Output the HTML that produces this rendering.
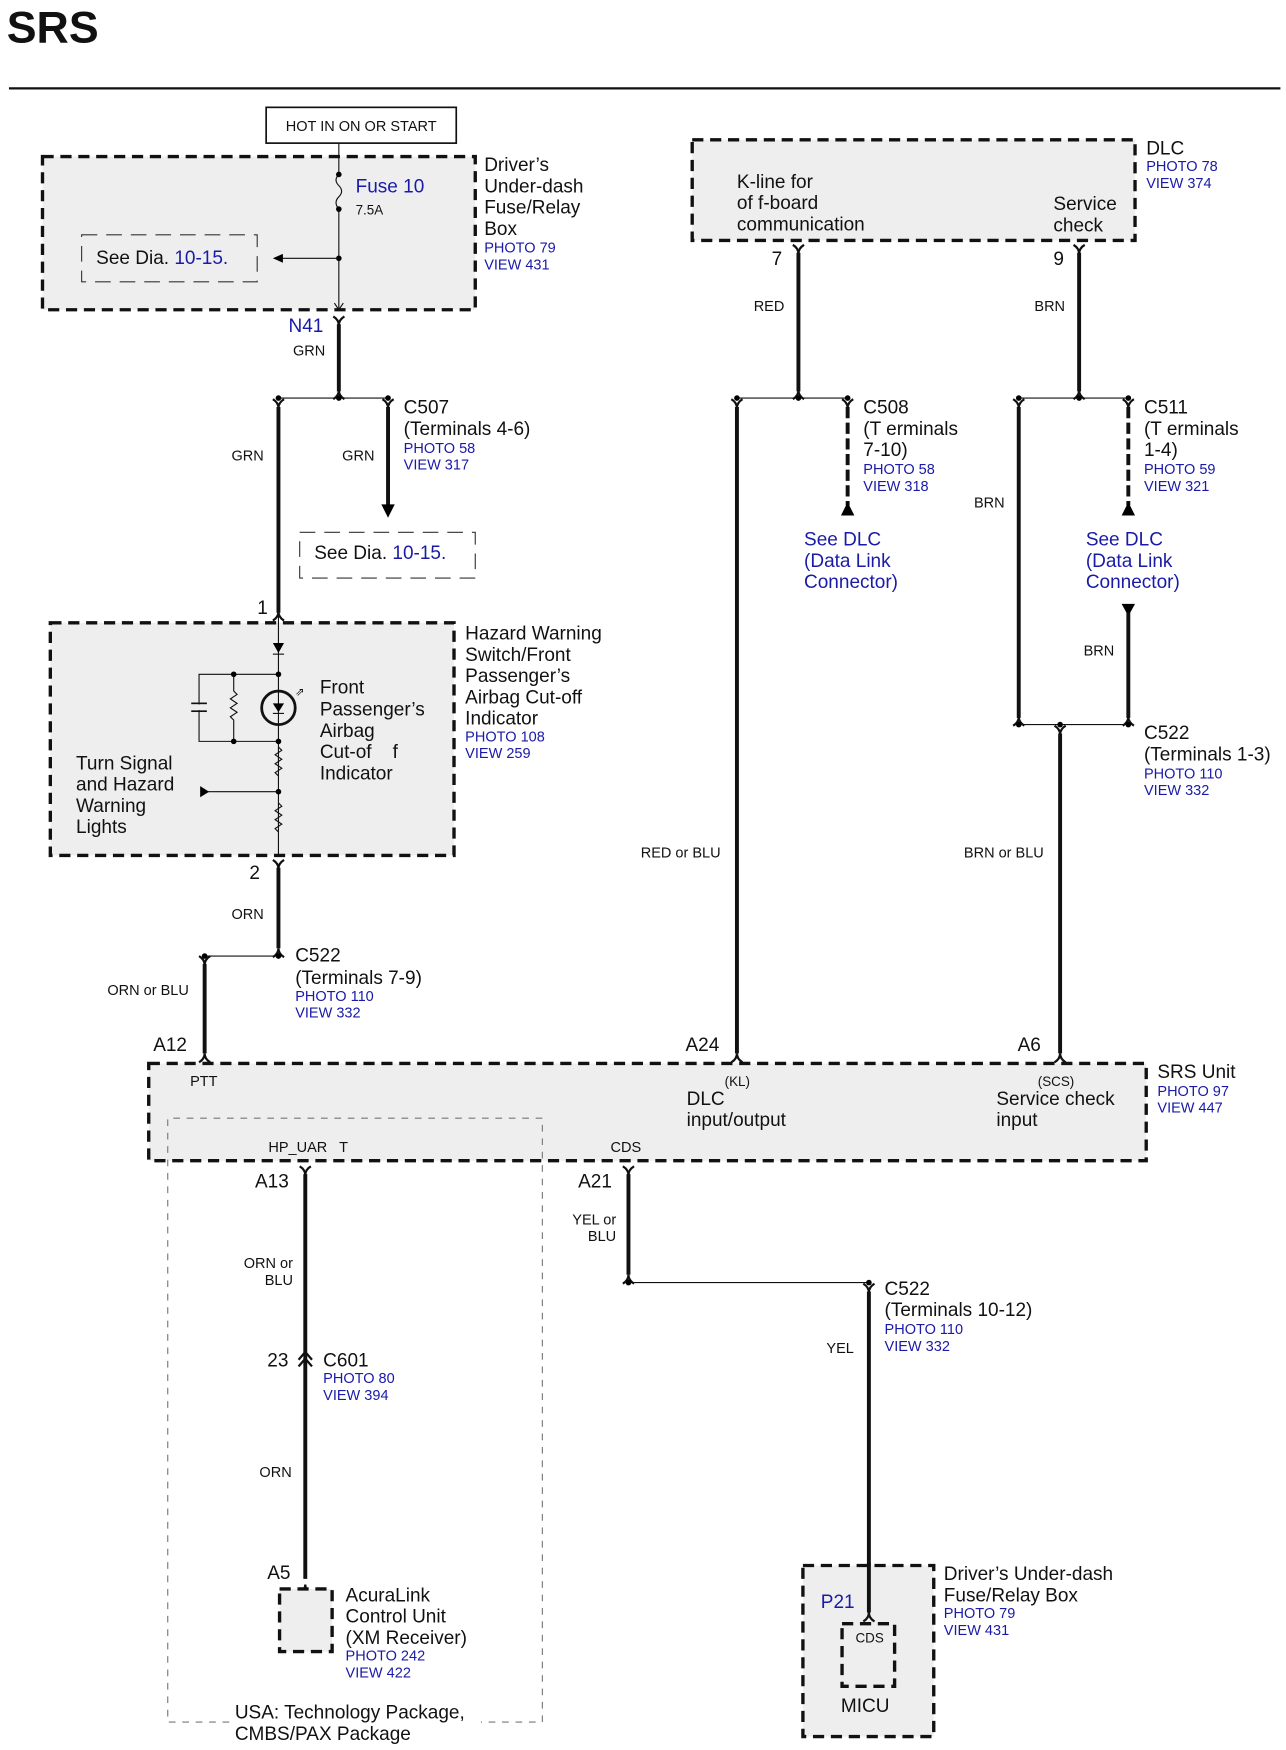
<!DOCTYPE html>
<html><head><meta charset="utf-8"><style>
html,body{margin:0;padding:0;background:#fff;}
svg{display:block;}
text{font-family:"Liberation Sans",Arial,sans-serif;fill:#111;}
.b{fill:#1a1aa8;}
.l{font-size:17px;}
.s{font-size:13px;}
.w{font-size:13px;}
</style></head><body>
<svg width="1286" height="1750" viewBox="0 0 1150 1565" preserveAspectRatio="none" xmlns="http://www.w3.org/2000/svg">
<defs>
<g id="fk"><path d="M-5,-7 Q0,-4 0,1 Q0,-4 5,-7" fill="none" stroke="#111" stroke-width="2"/></g>
<g id="cp"><path d="M-5,7 Q0,4 0,-1 Q0,4 5,7" fill="none" stroke="#111" stroke-width="2"/></g>
</defs>
<text x="6" y="38" style="font-size:40px;font-weight:bold">SRS</text>
<line x1="8" y1="79" x2="1145" y2="79" stroke="#111" stroke-width="2"/>

<rect x="238" y="96" width="170" height="32" fill="#fff" stroke="#111" stroke-width="1.5"/>
<text x="323" y="117" class="s" text-anchor="middle">HOT IN ON OR START</text>

<rect x="38" y="140" width="387" height="137" fill="#eee" stroke="#111" stroke-width="3" stroke-dasharray="10,6"/>
<line x1="303" y1="128" x2="303" y2="156" stroke="#111"/>
<path d="M303,156 q-5,5 0,10 q5,5 0,10 q-5,5 0,11" fill="none" stroke="#111"/>
<line x1="303" y1="187" x2="303" y2="277" stroke="#111"/>
<circle cx="303" cy="156" r="2.5"/><circle cx="303" cy="187" r="2.5"/><circle cx="303" cy="231" r="2.5"/>
<text x="318" y="172" class="l b">Fuse 10</text>
<text x="318" y="192" style="font-size:12px">7.5A</text>
<line x1="303" y1="231" x2="252" y2="231" stroke="#111"/>
<path d="M244,231 L253,227 L253,235 Z"/>
<rect x="73" y="210" width="157" height="42" fill="none" stroke="#333" stroke-dasharray="14,8"/>
<text x="86" y="236" class="l">See Dia. <tspan class="b">10-15.</tspan></text>
<path d="M299,271 L303,277 L307,271" fill="none" stroke="#111"/>
<text x="433" y="153" class="l">Driver’s</text>
<text x="433" y="172" class="l">Under-dash</text>
<text x="433" y="191" class="l">Fuse/Relay</text>
<text x="433" y="210" class="l">Box</text>
<text x="433" y="226" class="s b">PHOTO 79</text>
<text x="433" y="241" class="s b">VIEW 431</text>

<text x="258" y="297" class="l b">N41</text>
<use href="#fk" x="303" y="290"/>
<line x1="303" y1="290" x2="303" y2="350" stroke="#111" stroke-width="3.5"/>
<text x="262" y="318" class="w">GRN</text>
<use href="#cp" x="303" y="350"/>
<line x1="249" y1="356" x2="347" y2="356" stroke="#111"/>
<circle cx="249" cy="356" r="2.5"/><circle cx="303" cy="356" r="2.5"/><circle cx="347" cy="356" r="2.5"/>
<use href="#fk" x="249" y="364"/><use href="#fk" x="347" y="364"/>
<line x1="249" y1="364" x2="249" y2="548" stroke="#111" stroke-width="3.5"/>
<line x1="347" y1="364" x2="347" y2="452" stroke="#111" stroke-width="3.5"/>
<path d="M341,451 L353,451 L347,463 Z"/>
<text x="361" y="370" class="l">C507</text>
<text x="361" y="389" class="l">(Terminals 4-6)</text>
<text x="361" y="405" class="s b">PHOTO 58</text>
<text x="361" y="420" class="s b">VIEW 317</text>
<text x="207" y="412" class="w">GRN</text>
<text x="306" y="412" class="w">GRN</text>
<rect x="268" y="476" width="157" height="41" fill="none" stroke="#333" stroke-dasharray="14,8"/>
<text x="281" y="500" class="l">See Dia. <tspan class="b">10-15.</tspan></text>

<text x="230" y="549" class="l">1</text>
<use href="#cp" x="249" y="548"/>
<rect x="45" y="557" width="361" height="208" fill="#eee" stroke="#111" stroke-width="3" stroke-dasharray="10,6"/>
<line x1="249" y1="548" x2="249" y2="765" stroke="#111"/>
<path d="M244,575 L254,575 L249,584 Z"/><line x1="244" y1="585" x2="254" y2="585" stroke="#111"/>
<path d="M249,603 H178 V663 H249" fill="none" stroke="#111"/>
<path d="M209,603 V618 l3,3 l-6,4 l6,4 l-6,4 l6,4 l-6,4 l3,3 V663" fill="none" stroke="#111"/>
<line x1="171" y1="629" x2="185" y2="629" stroke="#111" stroke-width="1.5"/>
<line x1="171" y1="636" x2="185" y2="636" stroke="#111" stroke-width="1.5"/>
<rect x="174" y="630" width="8" height="5" fill="#eee"/>
<circle cx="209" cy="603" r="2.5"/><circle cx="249" cy="603" r="2.5"/><circle cx="209" cy="663" r="2.5"/><circle cx="249" cy="663" r="2.5"/>
<circle cx="249" cy="633" r="15" fill="#eee" stroke="#111" stroke-width="2.5"/>
<line x1="249" y1="618" x2="249" y2="648" stroke="#111"/>
<path d="M244,629 L254,629 L249,637 Z"/><line x1="244" y1="638" x2="254" y2="638" stroke="#111"/>
<text x="264" y="622" style="font-size:10px">⇗</text>
<path d="M249,668 l3,3 l-6,4 l6,4 l-6,4 l6,4 l-6,4 l3,3" fill="none" stroke="#111"/>
<path d="M249,718 l3,3 l-6,4 l6,4 l-6,4 l6,4 l-6,4 l3,3" fill="none" stroke="#111"/>
<circle cx="249" cy="708" r="2.5"/>
<line x1="186" y1="708" x2="249" y2="708" stroke="#111"/>
<path d="M179,703 L187,708 L179,713 Z"/>
<text x="286" y="620" class="l">Front</text>
<text x="286" y="640" class="l">Passenger’s</text>
<text x="286" y="659" class="l">Airbag</text>
<text x="286" y="678" class="l">Cut-of&#160;&#160;&#160; f</text>
<text x="286" y="697" class="l">Indicator</text>
<text x="68" y="688" class="l">Turn Signal</text>
<text x="68" y="707" class="l">and Hazard</text>
<text x="68" y="726" class="l">Warning</text>
<text x="68" y="745" class="l">Lights</text>
<text x="416" y="572" class="l">Hazard Warning</text>
<text x="416" y="591" class="l">Switch/Front</text>
<text x="416" y="610" class="l">Passenger’s</text>
<text x="416" y="629" class="l">Airbag Cut-off</text>
<text x="416" y="648" class="l">Indicator</text>
<text x="416" y="663" class="s b">PHOTO 108</text>
<text x="416" y="678" class="s b">VIEW 259</text>

<text x="223" y="786" class="l">2</text>
<use href="#fk" x="249" y="776"/>
<line x1="249" y1="776" x2="249" y2="848" stroke="#111" stroke-width="3.5"/>
<text x="207" y="822" class="w">ORN</text>
<use href="#cp" x="249" y="849"/>
<line x1="183" y1="855" x2="249" y2="855" stroke="#111"/>
<circle cx="183" cy="855" r="2.5"/><circle cx="249" cy="855" r="2.5"/>
<use href="#fk" x="183" y="862"/>
<line x1="183" y1="862" x2="183" y2="942" stroke="#111" stroke-width="3.5"/>
<text x="264" y="860" class="l">C522</text>
<text x="264" y="880" class="l">(Terminals 7-9)</text>
<text x="264" y="895" class="s b">PHOTO 110</text>
<text x="264" y="910" class="s b">VIEW 332</text>
<text x="96" y="890" class="w">ORN or BLU</text>

<rect x="619" y="125" width="396" height="90" fill="#eee" stroke="#111" stroke-width="3" stroke-dasharray="10,6"/>
<text x="659" y="168" class="l">K-line for</text>
<text x="659" y="187" class="l">of f-board</text>
<text x="659" y="206" class="l">communication</text>
<text x="942" y="188" class="l">Service</text>
<text x="942" y="207" class="l">check</text>
<text x="1025" y="138" class="l">DLC</text>
<text x="1025" y="153" class="s b">PHOTO 78</text>
<text x="1025" y="168" class="s b">VIEW 374</text>
<text x="690" y="237" class="l">7</text>
<text x="942" y="237" class="l">9</text>
<use href="#fk" x="714" y="226"/><use href="#fk" x="965" y="226"/>
<line x1="714" y1="226" x2="714" y2="350" stroke="#111" stroke-width="3.5"/>
<line x1="965" y1="226" x2="965" y2="350" stroke="#111" stroke-width="3.5"/>
<text x="674" y="278" class="w">RED</text>
<text x="925" y="278" class="w">BRN</text>
<use href="#cp" x="714" y="350"/><use href="#cp" x="965" y="350"/>
<line x1="659" y1="356" x2="758" y2="356" stroke="#111"/>
<line x1="911" y1="356" x2="1009" y2="356" stroke="#111"/>
<circle cx="659" cy="356" r="2.5"/><circle cx="714" cy="356" r="2.5"/><circle cx="758" cy="356" r="2.5"/>
<circle cx="911" cy="356" r="2.5"/><circle cx="965" cy="356" r="2.5"/><circle cx="1009" cy="356" r="2.5"/>
<use href="#fk" x="659" y="364"/><use href="#fk" x="758" y="364"/>
<use href="#fk" x="911" y="364"/><use href="#fk" x="1009" y="364"/>
<line x1="659" y1="364" x2="659" y2="942" stroke="#111" stroke-width="3.5"/>
<line x1="758" y1="364" x2="758" y2="452" stroke="#111" stroke-width="3.5" stroke-dasharray="10,4"/>
<path d="M752,461 L764,461 L758,449 Z"/>
<line x1="911" y1="364" x2="911" y2="642" stroke="#111" stroke-width="3.5"/>
<line x1="1009" y1="364" x2="1009" y2="452" stroke="#111" stroke-width="3.5" stroke-dasharray="10,4"/>
<path d="M1003,461 L1015,461 L1009,449 Z"/>
<text x="772" y="370" class="l">C508</text>
<text x="772" y="389" class="l">(T erminals</text>
<text x="772" y="408" class="l">7-10)</text>
<text x="772" y="424" class="s b">PHOTO 58</text>
<text x="772" y="439" class="s b">VIEW 318</text>
<text x="1023" y="370" class="l">C511</text>
<text x="1023" y="389" class="l">(T erminals</text>
<text x="1023" y="408" class="l">1-4)</text>
<text x="1023" y="424" class="s b">PHOTO 59</text>
<text x="1023" y="439" class="s b">VIEW 321</text>
<text x="719" y="488" class="l b">See DLC</text>
<text x="719" y="507" class="l b">(Data Link</text>
<text x="719" y="526" class="l b">Connector)</text>
<text x="971" y="488" class="l b">See DLC</text>
<text x="971" y="507" class="l b">(Data Link</text>
<text x="971" y="526" class="l b">Connector)</text>
<text x="871" y="454" class="w">BRN</text>
<path d="M1003,540 L1015,540 L1009,551 Z"/>
<line x1="1009" y1="548" x2="1009" y2="642" stroke="#111" stroke-width="3.5"/>
<text x="969" y="586" class="w">BRN</text>
<use href="#cp" x="911" y="642"/><use href="#cp" x="1009" y="642"/>
<line x1="911" y1="648" x2="1009" y2="648" stroke="#111"/>
<circle cx="911" cy="648" r="2.5"/><circle cx="948" cy="648" r="2.5"/><circle cx="1009" cy="648" r="2.5"/>
<use href="#fk" x="948" y="656"/>
<line x1="948" y1="656" x2="948" y2="942" stroke="#111" stroke-width="3.5"/>
<text x="1023" y="661" class="l">C522</text>
<text x="1023" y="680" class="l">(Terminals 1-3)</text>
<text x="1023" y="696" class="s b">PHOTO 110</text>
<text x="1023" y="711" class="s b">VIEW 332</text>
<text x="573" y="767" class="w">RED or BLU</text>
<text x="862" y="767" class="w">BRN or BLU</text>

<text x="137" y="940" class="l">A12</text>
<text x="613" y="940" class="l">A24</text>
<text x="910" y="940" class="l">A6</text>
<use href="#cp" x="183" y="943"/><use href="#cp" x="659" y="943"/><use href="#cp" x="948" y="943"/>
<rect x="133" y="951" width="892" height="87" fill="#eee" stroke="#111" stroke-width="3" stroke-dasharray="10,6"/>
<text x="170" y="971" class="s">PTT</text>
<text x="614" y="988" class="l">DLC</text>
<text x="648" y="971" style="font-size:12px">(KL)</text>
<text x="614" y="1007" class="l">input/output</text>
<text x="928" y="971" style="font-size:12px">(SCS)</text>
<text x="891" y="988" class="l">Service check</text>
<text x="891" y="1007" class="l">input</text>
<text x="240" y="1030" class="s">HP_UAR&#160;&#160; T</text>
<text x="546" y="1030" class="s">CDS</text>
<text x="1035" y="964" class="l">SRS Unit</text>
<text x="1035" y="980" class="s b">PHOTO 97</text>
<text x="1035" y="995" class="s b">VIEW 447</text>

<path d="M205,1540 H150 V1000 H485 V1540 H430" fill="none" stroke="#777" stroke-dasharray="6,6"/>
<text x="210" y="1537" class="l">USA: Technology Package,</text>
<text x="210" y="1556" class="l">CMBS/PAX Package</text>

<text x="228" y="1062" class="l">A13</text>
<use href="#fk" x="273" y="1050"/>
<line x1="273" y1="1050" x2="273" y2="1412" stroke="#111" stroke-width="3.5"/>
<text x="262" y="1134" class="w" text-anchor="end">ORN or</text>
<text x="262" y="1149" class="w" text-anchor="end">BLU</text>
<text x="239" y="1222" class="l">23</text>
<path d="M267,1216 L273,1209 L279,1216 M267,1222 L273,1215 L279,1222" fill="none" stroke="#111" stroke-width="2"/>
<text x="289" y="1222" class="l">C601</text>
<text x="289" y="1237" class="s b">PHOTO 80</text>
<text x="289" y="1252" class="s b">VIEW 394</text>
<text x="232" y="1321" class="w">ORN</text>
<text x="239" y="1412" class="l">A5</text>
<use href="#cp" x="273" y="1418"/>
<rect x="250" y="1421" width="47" height="56" fill="#eee" stroke="#111" stroke-width="3" stroke-dasharray="10,6"/>
<text x="309" y="1432" class="l">AcuraLink</text>
<text x="309" y="1451" class="l">Control Unit</text>
<text x="309" y="1470" class="l">(XM Receiver)</text>
<text x="309" y="1485" class="s b">PHOTO 242</text>
<text x="309" y="1500" class="s b">VIEW 422</text>

<text x="517" y="1062" class="l">A21</text>
<use href="#fk" x="562" y="1050"/>
<line x1="562" y1="1050" x2="562" y2="1140" stroke="#111" stroke-width="3.5"/>
<text x="551" y="1095" class="w" text-anchor="end">YEL or</text>
<text x="551" y="1110" class="w" text-anchor="end">BLU</text>
<use href="#cp" x="562" y="1141"/>
<line x1="562" y1="1147" x2="777" y2="1147" stroke="#111"/>
<circle cx="562" cy="1147" r="2.5"/><circle cx="777" cy="1147" r="2.5"/>
<use href="#fk" x="777" y="1155"/>
<line x1="777" y1="1155" x2="777" y2="1400" stroke="#111" stroke-width="3.5"/>
<text x="791" y="1158" class="l">C522</text>
<text x="791" y="1177" class="l">(Terminals 10-12)</text>
<text x="791" y="1193" class="s b">PHOTO 110</text>
<text x="791" y="1208" class="s b">VIEW 332</text>
<text x="739" y="1210" class="w">YEL</text>
<rect x="718" y="1400" width="117" height="153" fill="#eee" stroke="#111" stroke-width="3" stroke-dasharray="10,6"/>
<line x1="777" y1="1398" x2="777" y2="1442" stroke="#111" stroke-width="3.5"/>
<use href="#cp" x="777" y="1443"/>
<text x="734" y="1438" class="l b">P21</text>
<rect x="753" y="1452" width="47" height="56" fill="none" stroke="#111" stroke-width="3" stroke-dasharray="10,6"/>
<text x="765" y="1469" style="font-size:12px">CDS</text>
<text x="752" y="1531" class="l">MICU</text>
<text x="844" y="1413" class="l">Driver’s Under-dash</text>
<text x="844" y="1432" class="l">Fuse/Relay Box</text>
<text x="844" y="1447" class="s b">PHOTO 79</text>
<text x="844" y="1462" class="s b">VIEW 431</text>
</svg>
</body></html>
